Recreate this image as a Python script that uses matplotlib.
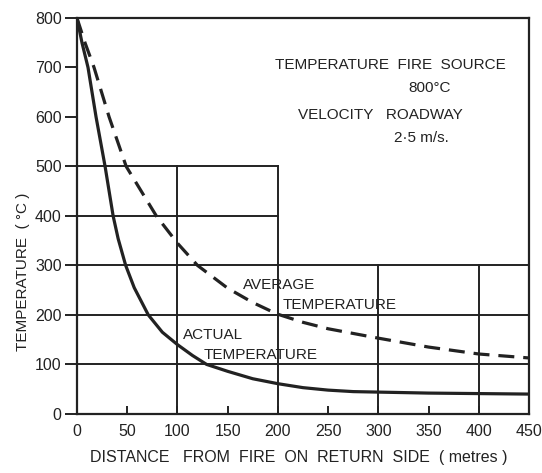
"""
Temperature along the return roadway downstream of a fire source
"""

import matplotlib
matplotlib.use("Agg")
from matplotlib import pyplot as plt

# Values
actual_x = [0, 5, 11, 19, 28, 36, 41, 48.5, 57, 71, 85, 100, 115, 129, 150, 175, 200, 225, 250, 275, 300, 350, 400, 450]
actual_t = [800, 750, 700, 600, 500, 400, 354, 300, 255, 200, 165, 140, 118, 100, 86, 71, 61, 53, 48, 45, 44, 42, 41, 40]

average_x = [0, 8, 17, 32, 49, 79, 100, 120, 150, 175, 199, 225, 250, 300, 350, 400, 450]
average_t = [800, 750, 700, 600, 500, 400, 345, 300, 254, 225, 202, 185, 172, 153, 135, 121, 113]

x_ticks = [0, 50, 100, 150, 200, 250, 300, 350, 400, 450]
y_ticks = [0, 100, 200, 300, 400, 500, 600, 700, 800]

# partial grid of the drawing: (level, start, end)
h_grid = [(100, 0, 450), (200, 0, 450), (300, 0, 450), (400, 0, 200), (500, 0, 200)]
v_grid = [(100, 0, 500), (200, 0, 500), (300, 0, 300), (400, 0, 300)]

plt.rcParams["font.family"] = ["Liberation Sans Narrow", "Liberation Sans", "DejaVu Sans"]
ink = "#222222"

fig = plt.figure(figsize=(5.42, 4.73), dpi=100)
ax = fig.add_axes([0.142, 0.125, 0.834, 0.837])

# grid
for level, a, b in h_grid:
    ax.plot([a, b], [level, level], color=ink, lw=1.4, zorder=1)
for level, a, b in v_grid:
    ax.plot([level, level], [a, b], color=ink, lw=1.4, zorder=1)

# curves
ax.plot(average_x, average_t, color=ink, lw=2.3, dashes=(5, 2.8), zorder=3)
ax.plot(actual_x, actual_t, color=ink, lw=2.3, zorder=3)

ax.set_xlim(0, 450)
ax.set_ylim(0, 800)
for side in ax.spines.values():
    side.set_color(ink)
    side.set_linewidth(1.6)

ax.set_xticks(x_ticks)
ax.set_yticks(y_ticks)
ax.tick_params(axis="y", direction="out", length=9, width=1.4, colors=ink, labelsize=11.5, pad=2)
ax.tick_params(axis="x", direction="in", length=6, width=1.4, colors=ink, labelsize=11.5, pad=7)

ax.set_xlabel("DISTANCE   FROM  FIRE  ON  RETURN  SIDE  ( metres )", fontsize=11.5, color=ink)
ax.xaxis.set_label_coords(0.49, -0.09)
ax.set_ylabel("TEMPERATURE  ( °C )", fontsize=11, color=ink)
ax.yaxis.set_label_coords(-0.105, 0.36)

# annotations
fs = 11
ax.text(197, 705, "TEMPERATURE  FIRE  SOURCE", fontsize=fs, color=ink, va="center")
ax.text(330, 658, "800°C", fontsize=fs, color=ink, va="center")
ax.text(220, 604, "VELOCITY   ROADWAY", fontsize=fs, color=ink, va="center")
ax.text(316, 557, "2·5 m/s.", fontsize=fs, color=ink, va="center")
ax.text(165, 260, "AVERAGE", fontsize=fs, color=ink, va="center")
ax.text(205, 220, "TEMPERATURE", fontsize=fs, color=ink, va="center")
ax.text(106, 160, "ACTUAL", fontsize=fs, color=ink, va="center")
ax.text(126, 119, "TEMPERATURE", fontsize=fs, color=ink, va="center")

fig.savefig("out.png", dpi=100, facecolor="white")
